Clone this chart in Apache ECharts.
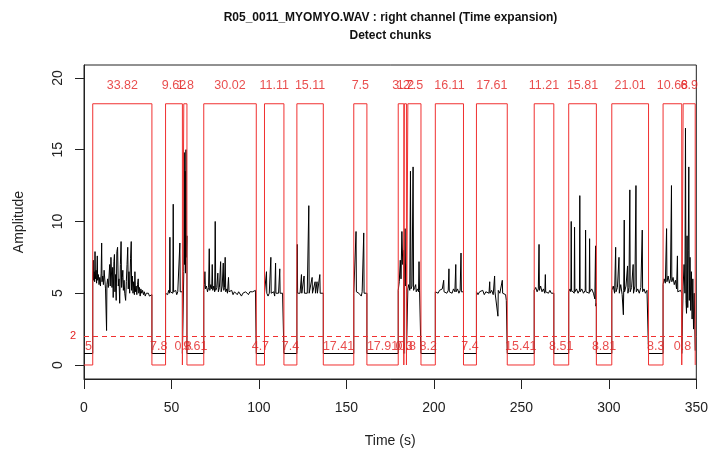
<!DOCTYPE html>
<html>
<head>
<meta charset="utf-8">
<script src="https://cdn.jsdelivr.net/npm/echarts@6/dist/echarts.min.js"></script>
<style>html,body{margin:0;padding:0;background:#fff}#c{width:711px;height:454px}</style>
</head>
<body>
<div id="c"></div>
<script>
// ---- data ----
var titleLine1 = 'R05_0011_MYOMYO.WAV : right channel (Time expansion)';
var titleLine2 = 'Detect chunks';
var xTicks = [0, 50, 100, 150, 200, 250, 300, 350];
var yTicks = [0, 5, 10, 15, 20];
var threshold = 2;
var chunkHigh = 18.2;
var topLabelY = 19.5;
var bottomLabelY = 1.3;

var chunkStart = [5, 46.62, 57.04, 68.45, 103.17, 121.68, 154.2, 179.61, 183.11, 185.11, 200.81, 224.32, 257.34, 277.06, 301.68, 330.99, 342.47];
var chunkEnd   = [38.82, 56.24, 58.84, 98.47, 114.28, 136.79, 161.7, 182.81, 184.31, 192.61, 216.92, 241.93, 268.55, 292.87, 322.69, 341.67, 349.37];
var chunkLabels = ['33.82', '9.62', '1.8', '30.02', '11.11', '15.11', '7.5', '3.2', '1.2', '7.5', '16.11', '17.61', '11.21', '15.81', '21.01', '10.68', '6.9'];
var gapLabels = ['5', '7.8', '0.8', '9.61', '4.7', '7.4', '17.41', '17.91', '0.3', '0.8', '8.2', '7.4', '15.41', '8.51', '8.81', '8.3', '0.8'];
var gapLevel = 0.8;

// amplitude signal inside each chunk: [time, amplitude]
var sig = [
 [[5.0,6.2],[5.3,7.3],[5.5,5.9],[5.8,6.5],[6.1,5.8],[6.3,7.9],[6.5,6.0],[6.9,6.6],[7.2,5.7],[7.6,7.6],[7.8,5.9],[8.2,6.3],[8.6,5.6],[9.0,6.1],[9.4,5.5],[9.8,6.4],[10.1,8.5],[10.3,5.8],[10.7,6.2],[11.1,5.6],[11.5,6.6],[12.0,6.6],[12.3,5.3],[12.9,2.4],[13.1,5.6],[13.5,6.0],[13.9,5.4],[14.3,6.2],[14.7,7.0],[15.0,5.5],[15.4,7.5],[15.8,7.5],[16.0,5.4],[16.4,6.8],[16.7,4.7],[17.1,7.2],[17.4,7.7],[17.7,5.1],[18.0,6.3],[18.4,4.5],[18.8,7.9],[19.2,8.2],[19.6,5.5],[20.0,6.0],[20.4,4.3],[20.8,7.0],[21.2,8.6],[21.5,5.4],[21.9,6.1],[22.2,6.6],[22.5,5.2],[22.9,5.9],[23.3,5.0],[23.8,4.5],[24.2,5.8],[24.6,7.0],[25.0,8.2],[25.3,5.3],[25.7,6.5],[26.1,5.0],[26.6,7.4],[27.0,8.6],[27.2,5.2],[27.6,6.2],[28.0,5.0],[28.4,5.8],[28.8,4.9],[29.1,6.5],[29.4,5.1],[29.8,5.5],[30.2,4.9],[30.6,5.6],[31.0,6.0],[31.3,5.0],[31.7,5.4],[32.1,4.8],[32.5,5.3],[33.0,5.0],[33.5,5.2],[34.0,4.9],[34.5,5.1],[35.0,4.8],[35.6,5.0],[36.2,4.9],[36.8,5.0],[37.4,4.8],[38.0,4.9],[38.82,4.9]],
 [[46.62,5.0],[47.2,5.1],[47.8,4.9],[48.4,5.2],[48.9,5.0],[49.1,8.9],[49.3,5.1],[49.8,5.0],[50.3,5.2],[50.8,5.0],[51.0,11.2],[51.2,5.1],[51.8,5.0],[52.4,5.2],[53.0,4.9],[53.6,5.1],[54.2,5.0],[54.6,5.2],[54.8,8.5],[55.0,5.1],[55.6,5.0],[56.24,5.1]],
 [[57.04,6.5],[57.3,14.8],[57.5,7.0],[57.8,13.5],[58.0,6.4],[58.3,15.0],[58.5,7.5],[58.84,9.0]],
 [[68.45,5.2],[68.8,5.6],[69.1,6.5],[69.4,5.3],[70.0,5.5],[70.6,5.1],[71.2,5.4],[71.6,8.1],[71.9,5.2],[72.5,5.6],[73.0,5.3],[73.3,7.0],[73.6,5.2],[74.2,5.5],[74.7,5.1],[75.0,10.0],[75.3,5.2],[75.9,5.4],[76.5,6.4],[76.8,5.1],[77.4,5.4],[78.1,7.2],[78.4,5.1],[79.0,5.5],[79.6,7.1],[79.9,5.2],[80.3,5.4],[80.7,7.5],[81.0,5.1],[81.6,5.3],[82.0,5.0],[82.6,6.1],[82.9,5.1],[83.6,5.0],[84.4,5.2],[85.2,4.9],[86.0,5.1],[86.8,5.0],[87.6,4.9],[88.4,5.1],[89.2,5.0],[90.0,4.8],[90.8,5.0],[91.6,4.9],[92.4,5.1],[93.2,5.0],[94.0,4.9],[94.8,5.1],[95.6,5.0],[96.4,5.1],[97.2,5.0],[98.0,5.2],[98.47,5.1]],
 [[103.17,5.0],[103.6,4.9],[104.1,5.0],[104.3,6.5],[104.5,5.0],[105.2,4.8],[105.9,5.0],[106.5,4.9],[106.8,7.5],[107.0,5.0],[107.7,4.9],[108.4,5.1],[109.0,4.8],[109.5,7.1],[109.7,5.0],[110.4,4.9],[111.2,5.0],[111.9,6.7],[112.1,5.0],[112.8,4.9],[113.5,5.0],[114.28,4.9]],
 [[121.68,5.0],[121.9,8.4],[122.1,5.0],[122.8,4.9],[123.5,5.0],[124.3,6.3],[124.5,5.0],[125.1,4.9],[125.8,6.2],[126.0,5.0],[126.8,4.9],[127.6,5.0],[128.3,4.9],[128.5,11.1],[128.7,5.0],[129.5,4.9],[130.4,6.1],[130.6,5.0],[131.4,4.9],[132.1,5.8],[132.3,5.0],[133.0,4.9],[133.2,5.8],[133.4,5.0],[134.1,4.9],[134.8,6.3],[135.0,5.0],[135.8,4.9],[136.79,5.0]],
 [[154.2,5.0],[154.8,5.1],[155.3,5.0],[155.5,9.3],[155.7,5.1],[156.4,5.2],[157.1,5.0],[157.8,5.1],[158.5,4.8],[159.0,5.1],[159.6,5.0],[159.9,9.2],[160.1,5.0],[160.8,5.1],[161.7,5.0]],
 [[179.61,5.2],[180.2,5.8],[180.8,7.3],[181.2,6.0],[181.7,9.3],[182.2,7.0],[182.81,8.0]],
 [[183.11,6.0],[183.5,9.5],[183.9,5.5],[184.31,7.0]],
 [[185.11,5.3],[185.6,5.6],[186.2,5.2],[186.6,13.5],[186.9,5.3],[187.5,5.5],[188.1,13.8],[188.4,5.2],[189.0,5.4],[189.6,5.6],[189.9,5.1],[190.6,5.3],[191.2,5.1],[191.5,7.2],[191.8,5.2],[192.61,5.2]],
 [[200.81,5.1],[201.6,5.2],[202.4,5.0],[203.2,5.2],[204.0,5.1],[204.8,5.3],[205.6,5.9],[205.8,5.1],[206.6,5.2],[207.4,5.0],[208.2,5.2],[208.6,6.7],[208.8,5.1],[209.6,5.2],[210.4,5.0],[211.2,5.3],[212.0,5.1],[212.5,7.0],[212.7,5.1],[213.5,5.3],[214.3,5.0],[215.0,5.2],[215.5,7.8],[215.7,5.1],[216.3,5.2],[216.92,5.1]],
 [[224.32,5.1],[225.2,4.9],[226.1,5.1],[227.0,5.0],[227.9,5.2],[228.8,4.9],[229.7,5.1],[230.6,5.2],[231.5,5.0],[231.9,5.8],[232.1,5.0],[233.0,5.2],[233.9,4.9],[234.7,6.2],[234.9,5.1],[235.8,5.0],[236.6,3.4],[236.8,5.2],[237.7,5.0],[238.6,5.1],[239.1,5.9],[239.3,5.0],[240.2,5.1],[241.0,4.9],[241.4,4.5],[241.93,4.6]],
 [[257.34,5.2],[258.2,5.4],[259.0,5.1],[259.7,5.3],[260.1,8.4],[260.3,5.2],[261.0,5.5],[261.8,5.1],[262.6,5.3],[263.4,5.0],[263.7,6.3],[263.9,5.1],[264.7,5.2],[265.5,5.0],[266.3,5.2],[267.1,5.0],[267.9,5.1],[268.55,5.0]],
 [[277.06,5.1],[277.8,5.3],[278.3,5.1],[278.5,10.0],[278.7,5.2],[279.5,5.3],[280.2,5.0],[280.4,9.6],[280.6,5.1],[281.5,5.3],[282.4,5.0],[283.2,5.2],[283.4,11.8],[283.6,5.1],[284.5,5.3],[285.5,5.0],[286.5,5.2],[286.7,9.4],[286.9,5.1],[287.9,5.2],[288.8,5.0],[289.0,8.8],[289.2,5.1],[290.2,5.3],[291.2,5.0],[292.0,4.6],[292.4,8.3],[292.6,4.1],[292.87,4.3]],
 [[301.68,5.2],[302.5,5.5],[303.3,5.0],[303.9,8.2],[304.1,5.1],[304.9,5.4],[305.8,7.5],[306.0,5.0],[306.8,5.6],[307.6,4.9],[308.3,3.5],[308.5,5.2],[308.8,10.1],[309.0,5.1],[309.8,5.5],[310.7,6.9],[310.9,5.0],[311.5,5.4],[312.0,12.2],[312.2,5.1],[313.0,5.4],[313.9,7.0],[314.1,5.0],[314.9,5.5],[315.5,12.5],[315.7,5.1],[316.5,5.3],[317.4,5.0],[318.3,5.4],[319.1,9.4],[319.3,5.1],[320.1,5.3],[320.9,5.0],[321.8,5.2],[322.69,5.1]],
 [[330.99,5.6],[331.6,6.0],[332.3,5.7],[333.0,9.5],[333.2,5.8],[333.9,6.2],[334.6,5.7],[335.2,6.0],[335.8,12.5],[336.0,5.8],[336.7,6.1],[337.4,5.6],[338.1,5.9],[338.7,5.3],[339.2,7.6],[339.4,5.1],[340.2,5.0],[341.0,5.2],[341.67,5.0]],
 [[342.47,5.5],[343.0,7.0],[343.5,5.0],[343.8,16.5],[344.1,4.5],[344.4,3.6],[344.7,9.0],[345.1,4.0],[345.4,8.0],[345.7,13.8],[346.0,4.5],[346.4,7.5],[346.8,3.8],[347.2,6.5],[347.6,3.2],[348.0,6.0],[348.4,2.5],[348.8,5.0],[349.37,1.0]]
];

// ---- build series data ----
var signalData = [];
var stepData = [[0, 0]];
var topLabelData = [];
var bottomLabelData = [];
for (var i = 0; i < chunkStart.length; i++) {
  var gStart = i === 0 ? 0 : chunkEnd[i - 1];
  signalData.push([gStart, gapLevel], [chunkStart[i], gapLevel]);
  for (var k = 0; k < sig[i].length; k++) signalData.push(sig[i][k]);
  stepData.push([chunkStart[i], 0], [chunkStart[i], chunkHigh], [chunkEnd[i], chunkHigh], [chunkEnd[i], 0]);
  topLabelData.push([(chunkStart[i] + chunkEnd[i]) / 2, topLabelY, chunkLabels[i]]);
  bottomLabelData.push([(gStart + chunkStart[i]) / 2, bottomLabelY, gapLabels[i]]);
}

var FONT = '"Liberation Sans", Arial, Helvetica, sans-serif';
var RED = '#f03030';
var TXTRED = '#e42222';
var chart = echarts.init(document.getElementById('c'), null, {renderer: 'canvas'});
chart.setOption({
  animation: false,
  backgroundColor: '#fff',
  textStyle: {fontFamily: FONT},
  graphic: [
    {type: 'text', style: {text: titleLine1, x: 390.5, y: 12, textAlign: 'center', font: 'bold 12px ' + FONT, fill: '#111'}},
    {type: 'text', style: {text: titleLine2, x: 390.5, y: 30, textAlign: 'center', font: 'bold 12px ' + FONT, fill: '#111'}}
  ],
  grid: {left: 84, right: 14, top: 65, bottom: 75, show: true, borderColor: '#222', borderWidth: 1, backgroundColor: 'transparent'},
  xAxis: {
    type: 'value', min: 0, max: 350, interval: 50,
    axisLine: {show: true, onZero: false, lineStyle: {color: '#222'}},
    axisTick: {show: true, length: 10, lineStyle: {color: '#222'}},
    axisLabel: {fontSize: 14, color: '#222', margin: 22, fontFamily: FONT},
    splitLine: {show: false},
    name: 'Time (s)', nameLocation: 'middle', nameGap: 55,
    nameTextStyle: {fontSize: 14, color: '#222', fontFamily: FONT}
  },
  yAxis: {
    type: 'value', min: -0.976, max: 20.9,
    axisLine: {show: true, onZero: false, lineStyle: {color: '#222'}},
    axisTick: {show: true, length: 9, lineStyle: {color: '#222'}, customValues: yTicks},
    axisLabel: {fontSize: 14, color: '#222', rotate: 90, margin: 19, fontFamily: FONT, customValues: yTicks},
    splitLine: {show: false},
    name: 'Amplitude', nameLocation: 'middle', nameGap: 58, nameRotate: 90,
    nameTextStyle: {fontSize: 14, color: '#222', fontFamily: FONT}
  },
  series: [
    {type: 'line', data: signalData, showSymbol: false, symbol: 'none', clip: true,
     lineStyle: {color: '#000', width: 1}, z: 2},
    {type: 'line', data: stepData, showSymbol: false, symbol: 'none', clip: true,
     lineStyle: {color: RED, width: 1}, z: 3,
     markLine: {symbol: 'none', silent: true,
       data: [{yAxis: threshold}],
       lineStyle: {color: RED, type: [5, 4], width: 1},
       label: {show: true, position: 'start', formatter: String(threshold), color: TXTRED, fontSize: 11, distance: 8, fontFamily: FONT}}},
    {type: 'scatter', data: topLabelData, symbolSize: 0, z: 4,
     label: {show: true, position: 'inside', formatter: function (p) { return p.data[2]; }, color: TXTRED, fontSize: 12.5, fontFamily: FONT}},
    {type: 'scatter', data: bottomLabelData, symbolSize: 0, z: 4,
     label: {show: true, position: 'inside', formatter: function (p) { return p.data[2]; }, color: TXTRED, fontSize: 12.5, fontFamily: FONT}}
  ]
});
</script>
</body>
</html>
